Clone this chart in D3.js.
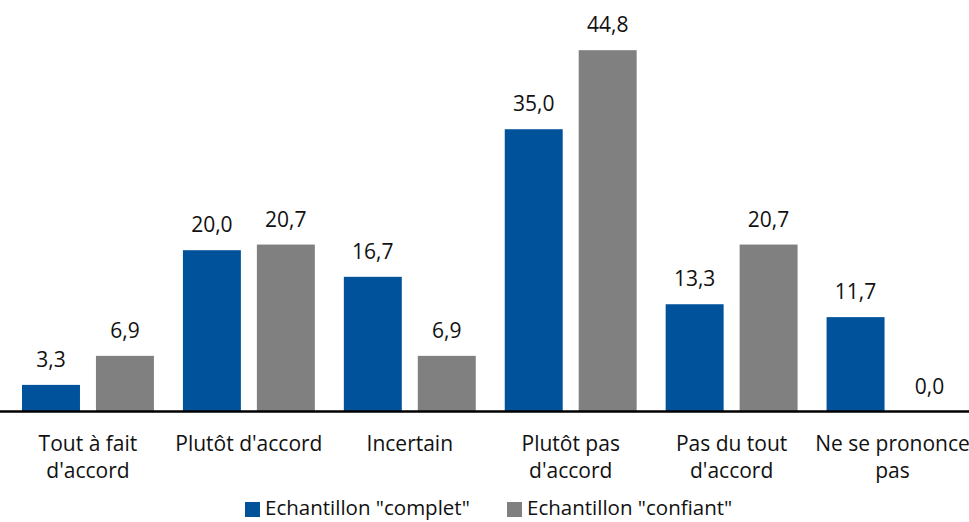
<!DOCTYPE html>
<html><head><meta charset="utf-8">
<script src="https://cdn.jsdelivr.net/npm/d3@7"></script>
<style>
html,body{margin:0;padding:0;background:#fff;}
text{font-family:"Open Sans",sans-serif;fill:#111;}
</style></head>
<body><svg id="c" width="969" height="522"></svg>
<script>
const categories = [["Tout à fait","d'accord"],["Plutôt d'accord"],["Incertain"],["Plutôt pas","d'accord"],["Pas du tout","d'accord"],["Ne se prononce","pas"]];
const seriesNames = ['Echantillon "complet"','Echantillon "confiant"'];
const complet = [3.3,20.0,16.7,35.0,13.3,11.7];
const confiant = [6.9,20.7,6.9,44.8,20.7,0.0];
const colors = ["#00529B","#808080"];

const svg = d3.select("#c");
const keys = categories.map((c,i)=>i);
const x = d3.scaleBand().domain(keys).range([7.5,973]).paddingInner(0).paddingOuter(0);
const x1 = d3.scaleBand().domain([0,1]).range([14.5, x.bandwidth()-14.5]).paddingInner(16/74).paddingOuter(0);
const y = d3.scaleLinear().domain([0,50]).range([411.5, 411.5-50*8.065]);
const fmt = v => v.toFixed(1).replace(".",",");
const series = [complet, confiant];
const FS = "21px";

series.forEach((vals,s)=>{
  const g = svg.append("g");
  g.selectAll("rect").data(vals).join("rect")
    .attr("x",(d,i)=>x(i)+x1(s))
    .attr("width",x1.bandwidth())
    .attr("y",d=>y(d))
    .attr("height",d=>y(0)-y(d))
    .attr("fill",colors[s]);
  g.selectAll("text").data(vals).join("text")
    .attr("x",(d,i)=>x(i)+x1(s)+x1.bandwidth()/2)
    .attr("y",d=>y(d)-18)
    .attr("text-anchor","middle")
    .style("font-size",FS)
    .text(fmt);
});

// axis
const ax = svg.append("g").attr("transform",`translate(0,${y(0)})`)
  .call(d3.axisBottom(x).tickSize(0).tickFormat(""));
ax.select(".domain").attr("stroke","#000").attr("stroke-width",2.5).attr("d","M0,0H969");

const lab = svg.append("g");
categories.forEach((lines,i)=>{
  const t = lab.append("text").attr("text-anchor","middle")
    .attr("x",x(i)+x.bandwidth()/2).attr("y",451).style("font-size",FS);
  lines.forEach((l,j)=>t.append("tspan").attr("x",x(i)+x.bandwidth()/2).attr("dy",j?27:0).text(l));
});

// legend
const leg = svg.append("g");
const legX = [245,507];
seriesNames.forEach((n,s)=>{
  leg.append("rect").attr("x",legX[s]).attr("y",502).attr("width",15).attr("height",15).attr("fill",colors[s]);
  leg.append("text").attr("x",legX[s]+20).attr("y",515).style("font-size","20.5px").text(n);
});
</script></body></html>
